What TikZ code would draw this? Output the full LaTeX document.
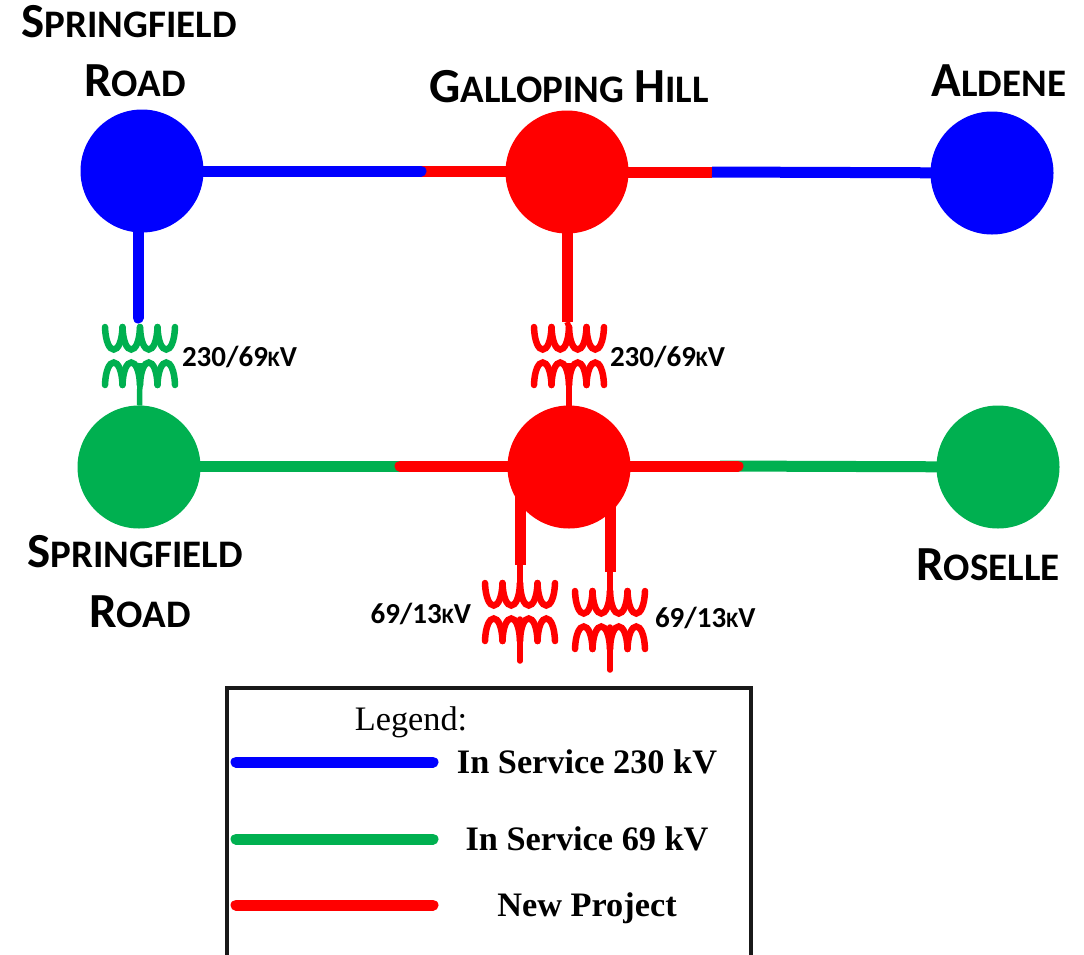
\documentclass[tikz,border=0pt]{standalone}
\usepackage{fontspec}
\setmainfont{Liberation Serif}
\newfontfamily\labelfont{Carlito}
\definecolor{busblue}{HTML}{0000FF}
\definecolor{busgreen}{HTML}{00B050}
\definecolor{busred}{HTML}{FF0000}
\newcommand{\stn}[2]{{\fontsize{49}{49}\selectfont #1}{\fontsize{39}{39}\selectfont #2}}
\newcommand{\kvtext}[1]{#1{\fontsize{22}{22}\selectfont K}V}
\tikzset{
  bus/.style={circle, fill=#1, minimum size=123pt, inner sep=0pt, outer sep=0pt},
  feeder/.style={draw=#1, line width=11pt},
  lead/.style={draw=#1, line width=5.5pt},
  coil/.style={draw=#1, line width=6.5pt, line cap=round},
  keyline/.style={draw=#1, line width=11pt, line cap=round},
  stationname/.style={font=\labelfont\bfseries, inner sep=0pt, outer sep=0pt},
  ratio/.style={font=\labelfont\fontsize{29}{29}\selectfont\bfseries, inner sep=0pt, outer sep=0pt},
  keytext/.style={font=\fontsize{34.3}{34.3}\selectfont\bfseries, inner sep=0pt, anchor=base},
  xfmr/.pic={
    \foreach \u in {-35,-17.5,0,17.5} {
      \draw[coil=#1] (\u,-28) .. controls (\u+1,2) and (\u+16.5,2) .. (\u+17.5,-28);
      \draw[coil=#1] (\u,30) .. controls (\u+1,0) and (\u+16.5,0) .. (\u+17.5,30);
    }
    \coordinate (hv) at (0,-28);
    \coordinate (lv) at (0,8);
  }
}
\begin{document}
\begin{tikzpicture}[x=1pt, y=-1pt]
  \useasboundingbox (0,0) rectangle (1084,954);

  % Station names
  \node[stationname] (sprhightop) at (129,22) {\stn{S}{PRINGFIELD}};
  \node[stationname] (sprhighname) at (135,81) {\stn{R}{OAD}};
  \node[stationname] (galname) at (569,87) {\stn{G}{ALLOPING}\hspace{10pt}\stn{H}{ILL}};
  \node[stationname] (aldname) at (999,81) {\stn{A}{LDENE}};
  \node[stationname] (sprlowtop) at (135,552) {\stn{S}{PRINGFIELD}};
  \node[stationname] (sprlowname) at (140,612) {\stn{R}{OAD}};
  \node[stationname] (rosname) at (988,565) {\stn{R}{OSELLE}};

  % Free ends where the colour changes
  \coordinate (joina) at (421,171);
  \coordinate (joinb) at (712,172);
  \coordinate (joinc) at (400,466);
  \coordinate (joind) at (738,466);
  \coordinate (lapc) at (460,466);
  \coordinate (lapd) at (720,466);
  \coordinate (stuba) at (138,318);
  \coordinate (stubb) at (567,322);
  \coordinate (tapc) at (520,565);
  \coordinate (tapd) at (610,572);
  \coordinate (tailc) at (520,661);
  \coordinate (taild) at (610,670);

  % 230 kV lines
  \draw[feeder=busred] (joina) -- (567,171);
  \draw[feeder=busblue, line cap=round] (142,171) -- (joina);
  \draw[feeder=busred] (567,172) -- (joinb);
  \draw[feeder=busblue] (joinb) -- (992,173);
  \draw[feeder=busblue, line cap=round] (stuba |- 0,171) -- (stuba);
  \draw[feeder=busred] (stubb |- 0,172) -- (stubb);

  % 69 kV lines
  \draw[feeder=busgreen] (139,466) -- (lapc);
  \draw[feeder=busgreen] (lapd) -- (998,467);
  \draw[feeder=busred, line cap=round] (joinc) -- (569,466) -- (joind);

  % Buses
  \node[bus=busblue] (sprhigh) at (142,171) {};
  \node[bus=busred] (galhigh) at (567,172) {};
  \node[bus=busblue] (aldene) at (992,173) {};
  \node[bus=busgreen] (sprlow) at (139,467) {};
  \node[bus=busred] (gallow) at (569,467) {};
  \node[bus=busgreen] (roselle) at (998,467) {};

  % Transformers
  \pic (xa-) at (140,355) {xfmr=busgreen};
  \pic (xb-) at (569,355) {xfmr=busred};
  \pic (xc-) at (520,611) {xfmr=busred};
  \pic (xd-) at (610,619) {xfmr=busred};
  \node[ratio, anchor=west] (ratioa) at (182,357) {\kvtext{230/69}};
  \node[ratio, anchor=west] (ratiob) at (610,357) {\kvtext{230/69}};
  \node[ratio, anchor=east] (ratioc) at (471,614) {\kvtext{69/13}};
  \node[ratio, anchor=west] (ratiod) at (655,618) {\kvtext{69/13}};
  \draw[lead=busgreen] (xa-lv) -- (sprlow);
  \draw[lead=busred] (xb-lv) -- (gallow);
  \draw[lead=busred] (stubb) -- (xb-hv);

  % 13 kV feeds
  \draw[feeder=busred] (tapc |- gallow) -- (tapc);
  \draw[feeder=busred] (tapd |- gallow) -- (tapd);
  \draw[lead=busred] (tapc) -- (xc-hv);
  \draw[lead=busred] (tapd) -- (xd-hv);
  \draw[lead=busred, line cap=round] (xc-lv) -- (tailc);
  \draw[lead=busred, line cap=round] (xd-lv) -- (taild);

  % Legend
  \draw[line width=3.5pt, black!90] (227,960) |- (751,688) -- (751,960);
  \node[keytext, font=\fontsize{34.3}{34.3}\selectfont] (keytitle) at (411,730) {Legend:};
  \node[keytext] (keyhigh) at (587,773) {In Service 230 kV};
  \node[keytext] (keylow) at (587,850) {In Service 69 kV};
  \node[keytext] (keynew) at (587,916) {New Project};
  \coordinate (keyhighend) at (236,762);
  \coordinate (keylowend) at (236,839);
  \coordinate (keynewend) at (236,905);
  \draw[keyline=busblue] (keyhighend) -- ++(197,0);
  \draw[keyline=busgreen] (keylowend) -- ++(197,0);
  \draw[keyline=busred] (keynewend) -- ++(197,0);
\end{tikzpicture}
\end{document}
